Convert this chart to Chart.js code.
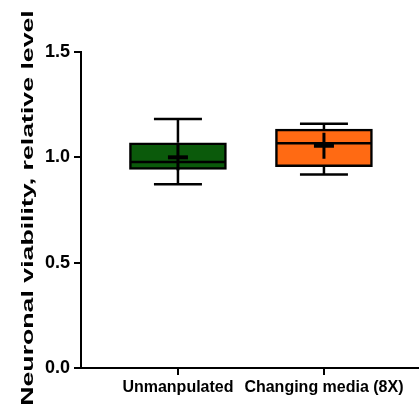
<!DOCTYPE html>
<html>
<head>
<meta charset="utf-8">
<script src="https://cdn.jsdelivr.net/npm/chart.js@4.4.1/dist/chart.umd.min.js"></script>
<style>
  body { margin: 0; background: #fff; }
</style>
</head>
<body>
<canvas id="chart" width="419" height="412"></canvas>
<script>
// data
var groups = ['Unmanpulated', 'Changing media (8X)'];
var xPos = [1, 2];
var mins = [0.872, 0.918];
var q1s = [0.943, 0.956];
var medians = [0.978, 1.067];
var q3s = [1.069, 1.134];
var maxs = [1.182, 1.160];
var means = [1.0, 1.055];
var boxColors = ['#0b5a0b', '#ff6a13'];
var yTicks = [0, 0.5, 1.0, 1.5];
var yTitle = 'Neuronal viability, relative level';

var sans = "'Liberation Sans', Arial, sans-serif";

// whiskers, median line and mean "+" on top of the boxes
var boxExtras = {
  id: 'boxExtras',
  afterDatasetsDraw: function(chart) {
    var ctx = chart.ctx;
    var xs = chart.scales.x;
    var ys = chart.scales.y;
    ctx.save();
    ctx.strokeStyle = '#000';
    ctx.lineCap = 'butt';
    for (var i = 0; i < groups.length; i++) {
      var cx = xs.getPixelForValue(xPos[i]);
      var half = 48;
      var cap = 24;
      // whiskers
      ctx.lineWidth = 2.5;
      ctx.beginPath();
      ctx.moveTo(cx, ys.getPixelForValue(q3s[i]));
      ctx.lineTo(cx, ys.getPixelForValue(maxs[i]));
      ctx.moveTo(cx - cap, ys.getPixelForValue(maxs[i]));
      ctx.lineTo(cx + cap, ys.getPixelForValue(maxs[i]));
      ctx.moveTo(cx, ys.getPixelForValue(q1s[i]));
      ctx.lineTo(cx, ys.getPixelForValue(mins[i]));
      ctx.moveTo(cx - cap, ys.getPixelForValue(mins[i]));
      ctx.lineTo(cx + cap, ys.getPixelForValue(mins[i]));
      ctx.stroke();
      // median
      ctx.beginPath();
      var my = ys.getPixelForValue(medians[i]);
      ctx.moveTo(cx - half, my);
      ctx.lineTo(cx + half, my);
      ctx.stroke();
      // mean +
      var mn = ys.getPixelForValue(means[i]);
      ctx.lineWidth = 3;
      ctx.beginPath();
      ctx.moveTo(cx, mn - 13);
      ctx.lineTo(cx, mn + 13);
      ctx.stroke();
      ctx.lineWidth = 4;
      ctx.beginPath();
      ctx.moveTo(cx - 10, mn);
      ctx.lineTo(cx + 10, mn);
      ctx.stroke();
    }
    ctx.restore();
  }
};

// the y title in the original is stretched along its length
var stretchedTitle = {
  id: 'stretchedTitle',
  afterDraw: function(chart) {
    var ctx = chart.ctx;
    ctx.save();
    ctx.translate(33, 208);
    ctx.rotate(-Math.PI / 2);
    ctx.scale(1.57, 1);
    ctx.font = 'bold 17px ' + sans;
    ctx.fillStyle = '#000';
    ctx.textAlign = 'center';
    ctx.textBaseline = 'alphabetic';
    ctx.fillText(yTitle, 0, 0);
    ctx.restore();
  }
};

var boxData = [];
for (var i = 0; i < groups.length; i++) {
  boxData.push({ x: xPos[i], y: [q1s[i], q3s[i]] });
}

var ctx = document.getElementById('chart').getContext('2d');
var chart = new Chart(ctx, {
  type: 'bar',
  data: {
    datasets: [{
      data: boxData,
      backgroundColor: boxColors,
      borderColor: '#000',
      borderWidth: 2.5,
      borderSkipped: false,
      barThickness: 97
    }]
  },
  options: {
    responsive: false,
    animation: false,
    layout: { padding: { top: 52, right: 0, left: 0, bottom: 0 } },
    plugins: {
      legend: { display: false },
      tooltip: { enabled: false }
    },
    scales: {
      x: {
        type: 'linear',
        offset: false,
        min: 0.336,
        max: 2.651,
        grid: { display: true, offset: false, drawOnChartArea: false, color: '#000', lineWidth: 2, tickLength: 7 },
        border: { color: '#000', width: 2 },
        afterBuildTicks: function(scale) {
          scale.ticks = xPos.map(function(v) { return { value: v }; });
        },
        afterFit: function(scale) { scale.height = 44; },
        ticks: {
          color: '#000',
          padding: 3,
          maxRotation: 0,
          autoSkip: false,
          font: { family: sans, size: 16, weight: 'bold' },
          callback: function(v) { return groups[xPos.indexOf(v)] || ''; }
        }
      },
      y: {
        min: 0,
        max: 1.5,
        grid: { display: true, drawOnChartArea: false, color: '#000', lineWidth: 2, tickLength: 7 },
        border: { color: '#000', width: 2 },
        afterBuildTicks: function(scale) {
          scale.ticks = yTicks.map(function(v) { return { value: v }; });
        },
        afterFit: function(scale) { scale.width = 81; },
        ticks: {
          color: '#000',
          padding: 4,
          font: { family: sans, size: 18, weight: 'bold' },
          callback: function(v) { return v.toFixed(1); }
        }
      }
    }
  },
  plugins: [boxExtras, stretchedTitle]
});
</script>
</body>
</html>
